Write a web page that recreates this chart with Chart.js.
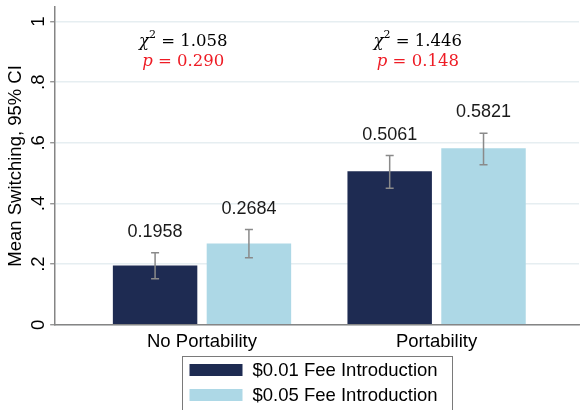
<!DOCTYPE html>
<html>
<head>
<meta charset="utf-8">
<script src="https://cdn.jsdelivr.net/npm/chart.js@4.4.0/dist/chart.umd.min.js"></script>
<style>
  html, body { margin: 0; padding: 0; background: #fff; }
</style>
</head>
<body>
<canvas id="chart" width="580" height="410"></canvas>
<script>
// categories and series
const categories = ['No Portability', 'Portability'];
const seriesNames = ['$0.01 Fee Introduction', '$0.05 Fee Introduction'];
const fee001Mean = [0.1958, 0.5061];
const fee005Mean = [0.2684, 0.5821];
// 95% CI bounds
const fee001Low = [0.152, 0.450];
const fee001High = [0.238, 0.558];
const fee005Low = [0.221, 0.528];
const fee005High = [0.314, 0.632];
// test results per category
const chiSquare = ['1.058', '1.446'];
const pValues = ['0.290', '0.148'];
// y axis ticks
const yTicks = [0, 0.2, 0.4, 0.6, 0.8, 1];
const yTickLabels = ['0', '.2', '.4', '.6', '.8', '1'];

const SANS = '"Liberation Sans", Arial, sans-serif';
const SERIF = '"DejaVu Serif", serif';
const DARK = '#1e2b52';
const LIGHT = '#add8e6';

function toPoints(values) {
  return values.map(function(v, i) { return { x: i, y: v }; });
}

// whiskers + value labels above them
const errorBarPlugin = {
  id: 'errorBars',
  afterDatasetsDraw: function(chart) {
    const ctx = chart.ctx;
    const yScale = chart.scales.y;
    ctx.save();
    chart.data.datasets.forEach(function(ds, di) {
      const meta = chart.getDatasetMeta(di);
      meta.data.forEach(function(bar, i) {
        const yLo = yScale.getPixelForValue(ds.ciLow[i]);
        const yHi = yScale.getPixelForValue(ds.ciHigh[i]);
        ctx.strokeStyle = '#8a8a8a';
        ctx.lineWidth = 1.5;
        ctx.beginPath();
        ctx.moveTo(bar.x, yLo);
        ctx.lineTo(bar.x, yHi);
        ctx.moveTo(bar.x - 4, yLo);
        ctx.lineTo(bar.x + 4, yLo);
        ctx.moveTo(bar.x - 4, yHi);
        ctx.lineTo(bar.x + 4, yHi);
        ctx.stroke();

        ctx.fillStyle = '#1a1a1a';
        ctx.font = '18px ' + SANS;
        ctx.textAlign = 'center';
        ctx.textBaseline = 'middle';
        ctx.fillText(ds.data[i].y.toFixed(4), bar.x, yHi - 21);
      });
    });
    ctx.restore();
  }
};

// chi-square / p-value notes above each group
function drawPieces(ctx, pieces, cx, cy, color) {
  let total = 0;
  pieces.forEach(function(p) {
    ctx.font = p.font;
    p.w = ctx.measureText(p.t).width;
    total += p.w;
  });
  let x = cx - total / 2;
  ctx.fillStyle = color;
  ctx.textAlign = 'left';
  ctx.textBaseline = 'middle';
  pieces.forEach(function(p) {
    ctx.font = p.font;
    ctx.fillText(p.t, x, cy + (p.dy || 0));
    x += p.w;
  });
}

const statsPlugin = {
  id: 'stats',
  afterDatasetsDraw: function(chart) {
    const ctx = chart.ctx;
    const xs = chart.scales.x;
    const ys = chart.scales.y;
    ctx.save();
    categories.forEach(function(c, i) {
      const cx = xs.getPixelForValue(i - 0.08);
      drawPieces(ctx, [
        { t: '\u03C7', font: 'italic 16.5px ' + SERIF },
        { t: '2', font: '11px ' + SERIF, dy: -6 },
        { t: ' = ' + chiSquare[i], font: '16.5px ' + SERIF }
      ], cx, ys.getPixelForValue(0.935), '#000');
      drawPieces(ctx, [
        { t: 'p', font: 'italic 16.5px ' + SERIF },
        { t: ' = ' + pValues[i], font: '16.5px ' + SERIF }
      ], cx, ys.getPixelForValue(0.866), '#ee1c25');
    });
    ctx.restore();
  }
};

// boxed legend with items stacked, below the axis
const boxLegendPlugin = {
  id: 'boxLegend',
  afterDraw: function(chart) {
    const ctx = chart.ctx;
    const area = chart.chartArea;
    const w = 270;
    const left = Math.round((area.left + area.right) / 2 - w / 2) + 0.5;
    const top = 356.5;
    ctx.save();
    ctx.strokeStyle = '#7a7a7a';
    ctx.lineWidth = 1;
    ctx.strokeRect(left, top, w, 70);
    chart.data.datasets.forEach(function(ds, i) {
      const cy = 370 + i * 25;
      ctx.fillStyle = ds.backgroundColor;
      ctx.fillRect(left + 7, cy - 6, 53, 12);
      ctx.fillStyle = '#000';
      ctx.font = '18.5px ' + SANS;
      ctx.textAlign = 'left';
      ctx.textBaseline = 'middle';
      ctx.fillText(ds.label, left + 70, cy + 1);
    });
    ctx.restore();
  }
};

new Chart(document.getElementById('chart'), {
  type: 'bar',
  data: {
    datasets: [
      {
        label: seriesNames[0],
        data: toPoints(fee001Mean),
        ciLow: fee001Low,
        ciHigh: fee001High,
        backgroundColor: DARK,
        borderWidth: 0
      },
      {
        label: seriesNames[1],
        data: toPoints(fee005Mean),
        ciLow: fee005Low,
        ciHigh: fee005High,
        backgroundColor: LIGHT,
        borderWidth: 0
      }
    ]
  },
  options: {
    responsive: false,
    animation: false,
    devicePixelRatio: 1,
    categoryPercentage: 0.8,
    barPercentage: 0.9,
    layout: { padding: { left: 0, right: 1, top: 7, bottom: 51 } },
    plugins: {
      legend: { display: false },
      tooltip: { enabled: false }
    },
    scales: {
      x: {
        type: 'linear',
        min: -0.626,
        max: 1.607,
        offset: false,
        afterBuildTicks: function(s) {
          s.ticks = categories.map(function(c, i) { return { value: i }; });
        },
        afterFit: function(s) { s.paddingLeft = 0; s.paddingRight = 0; },
        grid: { display: false, drawTicks: false },
        border: { display: true, color: '#858585', width: 1.5 },
        ticks: {
          autoSkip: false,
          maxRotation: 0,
          padding: 6,
          color: '#000',
          font: { family: SANS, size: 18.5 },
          callback: function(v, i) { return categories[i]; }
        }
      },
      y: {
        min: 0,
        max: 1.048,
        afterBuildTicks: function(s) {
          s.ticks = yTicks.map(function(v) { return { value: v }; });
        },
        afterFit: function(s) { s.paddingTop = 0; s.paddingBottom = 0; },
        grid: {
          color: '#e6eef1',
          lineWidth: 1.5,
          tickLength: 5,
          tickColor: '#858585',
          tickWidth: 1.2
        },
        border: { display: true, color: '#858585', width: 1.5 },
        ticks: {
          minRotation: 90,
          maxRotation: 90,
          crossAlign: 'center',
          padding: 4,
          color: '#000',
          font: { family: SANS, size: 18.5, lineHeight: 0.9 },
          callback: function(v, i) { return yTickLabels[i]; }
        },
        title: {
          display: true,
          text: 'Mean Switching, 95% CI',
          color: '#000',
          padding: { top: 7, bottom: 0 },
          font: { family: SANS, size: 18.5, lineHeight: 1 }
        }
      }
    }
  },
  plugins: [errorBarPlugin, statsPlugin, boxLegendPlugin]
});
</script>
</body>
</html>
